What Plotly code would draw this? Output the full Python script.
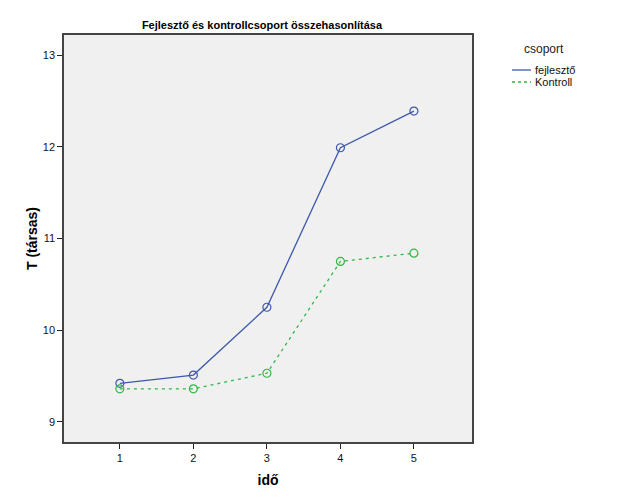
import plotly.graph_objects as go

ido = [1, 2, 3, 4, 5]
fejleszto = [9.42, 9.51, 10.25, 11.99, 12.39]
kontroll = [9.36, 9.36, 9.53, 10.75, 10.84]
y_ticks = [9, 10, 11, 12, 13]

blue = "#3E58AC"
green = "#2EB848"
font = "Liberation Sans, Arial, sans-serif"

fig = go.Figure()
fig.add_trace(go.Scatter(
    x=ido, y=fejleszto, mode="lines+markers", name="fejlesztő",
    line=dict(color=blue, width=1.3),
    marker=dict(symbol="circle-open", size=8, color=blue, line=dict(width=1.2)),
    showlegend=False))
fig.add_trace(go.Scatter(
    x=ido, y=kontroll, mode="lines+markers", name="Kontroll",
    line=dict(color=green, width=1.3, dash="3px,4px"),
    marker=dict(symbol="circle-open", size=8, color=green, line=dict(width=1.2)),
    showlegend=False))

# manual legend
fig.add_annotation(xref="paper", yref="paper", x=(544 - 64) / 408, y=(442 - 49) / 407,
                   text="csoport", showarrow=False, font=dict(size=12, color="#222"),
                   xanchor="center", yanchor="middle")
for i, (name, col, dash) in enumerate([("fejlesztő", blue, "solid"), ("Kontroll", green, "dot")]):
    yy = (442 - (70 + 12 * i)) / 407
    fig.add_shape(type="line", xref="paper", yref="paper",
                  x0=(512 - 64) / 408, x1=(531 - 64) / 408, y0=yy, y1=yy,
                  line=dict(color=col, width=1.3, dash=dash))
    fig.add_annotation(xref="paper", yref="paper", x=(533 - 64) / 408, y=yy,
                       text=name, showarrow=False, font=dict(size=11, color="#111"),
                       xanchor="left", yanchor="middle")

fig.update_layout(
    width=629, height=504,
    margin=dict(l=64, r=157, t=35, b=62, autoexpand=False),
    paper_bgcolor="white", plot_bgcolor="#F0F0F0",
    font=dict(family=font, size=11, color="#111"),
    title=dict(text="<b>Fejlesztő és kontrollcsoport összehasonlítása</b>",
               x=(262) / 629, xanchor="center", y=1 - 25 / 504, yanchor="middle",
               font=dict(size=11, color="#000")),
)
fig.update_xaxes(
    range=[0.24, 5.79], tickvals=ido, ticks="outside", ticklen=5, tickcolor="#222",
    showgrid=False, zeroline=False, showline=True, linecolor="#444", linewidth=1.5, mirror=True,
    automargin=False,
    title=dict(text="<b>idő</b>", font=dict(size=14, color="#000"), standoff=12))
fig.update_yaxes(
    range=[8.78, 13.22], tickvals=y_ticks, ticks="outside", ticklen=5, tickcolor="#222",
    showgrid=False, zeroline=False, showline=True, linecolor="#444", linewidth=1.5, mirror=True,
    automargin=False,
    title=dict(text="<b>T (társas)</b>", font=dict(size=14, color="#000"), standoff=2))

fig.write_html("out.html", config={"displayModeBar": False},
               post_script="document.body.style.margin='0';")
